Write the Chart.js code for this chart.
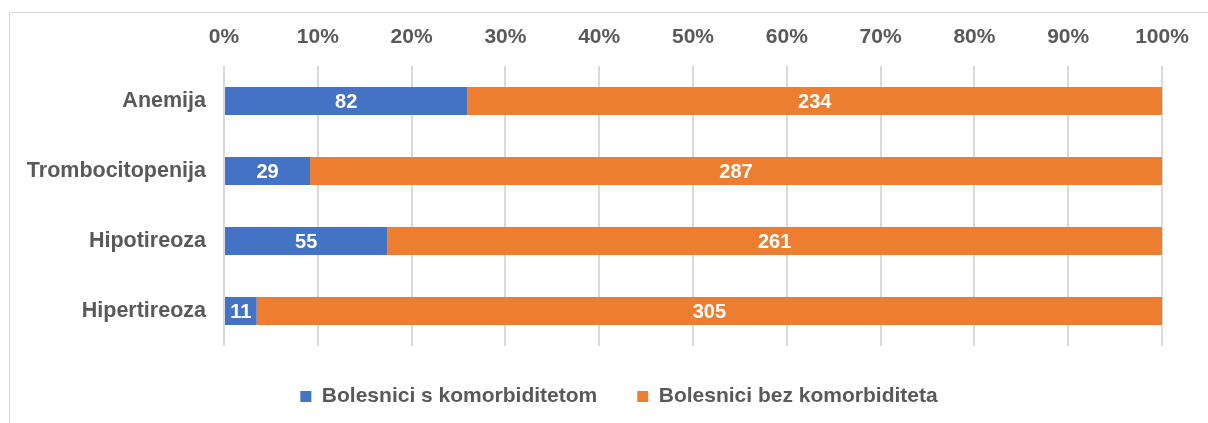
<!DOCTYPE html>
<html>
<head>
<meta charset="utf-8">
<script src="https://cdn.jsdelivr.net/npm/chart.js@4.4.0/dist/chart.umd.min.js"></script>
<style>
  html, body { margin: 0; padding: 0; background: #fff; overflow: hidden; }
  #wrap { position: relative; width: 1208px; height: 423px; }
  #frame { position: absolute; left: 9px; top: 12px; width: 1260px; height: 460px; border: 1px solid #d9d9d9; box-sizing: border-box; }
  canvas { position: absolute; left: 0; top: 0; }
</style>
</head>
<body>
<div id="wrap">
  <div id="frame"></div>
  <canvas id="komorbiditeti" width="1208" height="423"></canvas>
</div>
<script>
var categories = ['Anemija', 'Trombocitopenija', 'Hipotireoza', 'Hipertireoza'];
var saKomorbiditetom = [82, 29, 55, 11];
var bezKomorbiditeta = [234, 287, 261, 305];
var percentTicks = [0, 10, 20, 30, 40, 50, 60, 70, 80, 90, 100];

var grey = '#595959';
var fontFam = '"Liberation Sans", Arial, sans-serif';

function toPercent(arr) {
    return arr.map(function(v, i) {
        return v / (saKomorbiditetom[i] + bezKomorbiditeta[i]) * 100;
    });
}

// draws the raw counts in the middle of each bar piece
var countLabels = {
    id: 'countLabels',
    afterDatasetsDraw: function(chart) {
        var ctx = chart.ctx;
        ctx.save();
        ctx.fillStyle = '#ffffff';
        ctx.font = 'bold 20px ' + fontFam;
        ctx.textAlign = 'center';
        ctx.textBaseline = 'middle';
        chart.data.datasets.forEach(function(ds, di) {
            chart.getDatasetMeta(di).data.forEach(function(bar, i) {
                var x = (bar.x + bar.base) / 2;
                ctx.fillText(ds.counts[i], x, bar.y + 1);
            });
        });
        ctx.restore();
    }
};

// legend sits centred on the whole frame, not on the plot
var legendShift = {
    id: 'legendShift',
    afterLayout: function(chart) {
        chart.legend.left += 38;
        chart.legend.right += 38;
    }
};

const dt = {
    labels: categories,
    datasets: [
        {
            label: 'Bolesnici s komorbiditetom',
            data: toPercent(saKomorbiditetom),
            counts: saKomorbiditetom,
            backgroundColor: '#4472C4',
            barPercentage: 0.4,
            categoryPercentage: 1
        },
        {
            label: 'Bolesnici bez komorbiditeta',
            data: toPercent(bezKomorbiditeta),
            counts: bezKomorbiditeta,
            backgroundColor: '#ED7D31',
            barPercentage: 0.4,
            categoryPercentage: 1
        }
    ]
};

const config_komorbiditeti = {
    type: 'bar',
    data: dt,
    plugins: [countLabels, legendShift],
    options: {
        indexAxis: 'y',
        responsive: false,
        animation: false,
        layout: { padding: { top: 20, right: 46, bottom: 6, left: 0 } },
        scales: {
            x: {
                position: 'top',
                stacked: true,
                min: 0,
                max: 100,
                afterBuildTicks: function(scale) {
                    scale.ticks = percentTicks.map(function(v) { return { value: v }; });
                },
                afterFit: function(scale) { scale.height = 46; },
                grid: { color: '#d9d9d9', lineWidth: 2, drawTicks: false },
                border: { display: false },
                ticks: {
                    color: grey,
                    padding: 16,
                    font: { family: fontFam, size: 21, weight: 'bold' },
                    callback: function(v) { return v + '%'; }
                }
            },
            y: {
                stacked: true,
                afterFit: function(scale) { scale.width = 224; },
                grid: { display: false, drawTicks: false },
                border: { display: false },
                ticks: {
                    color: grey,
                    padding: 18,
                    font: { family: fontFam, size: 21.5, weight: 'bold' }
                }
            }
        },
        plugins: {
            tooltip: { enabled: false },
            legend: {
                position: 'bottom',
                labels: {
                    color: grey,
                    boxWidth: 11,
                    boxHeight: 11,
                    padding: 40,
                    font: { family: fontFam, size: 21, weight: 'bold' }
                }
            }
        }
    }
};

const komorbiditeti_chart = new Chart(
    document.getElementById('komorbiditeti'),
    config_komorbiditeti
);
</script>
</body>
</html>
